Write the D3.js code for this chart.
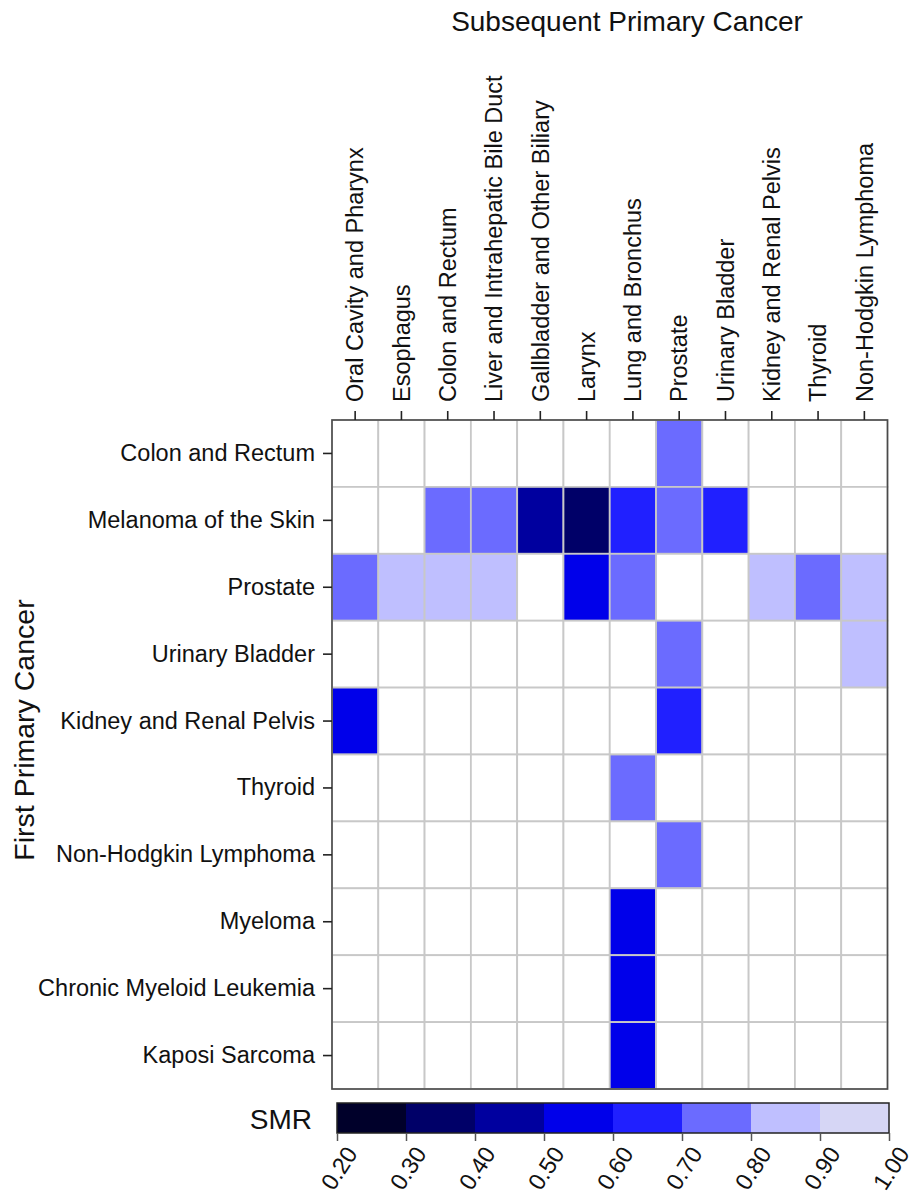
<!DOCTYPE html>
<html>
<head>
<meta charset="utf-8">
<script src="https://cdn.jsdelivr.net/npm/d3@7"></script>
<style>
  body { margin: 0; background: #fff; }
  svg { display: block; font-family: "Liberation Sans", Arial, sans-serif; }
</style>
</head>
<body>
<svg id="chart" width="909" height="1202"></svg>
<script>
// ---- data ----
const subsequentCancers = ["Oral Cavity and Pharynx", "Esophagus", "Colon and Rectum",
  "Liver and Intrahepatic Bile Duct", "Gallbladder and Other Biliary", "Larynx",
  "Lung and Bronchus", "Prostate", "Urinary Bladder", "Kidney and Renal Pelvis",
  "Thyroid", "Non-Hodgkin Lymphoma"];
const firstCancers = ["Colon and Rectum", "Melanoma of the Skin", "Prostate", "Urinary Bladder",
  "Kidney and Renal Pelvis", "Thyroid", "Non-Hodgkin Lymphoma", "Myeloma",
  "Chronic Myeloid Leukemia", "Kaposi Sarcoma"];
// SMR per first cancer (rows) x subsequent cancer (columns); null = not significant
const smrColonRectum   = [null, null, null, null, null, null, null, 0.75, null, null, null, null];
const smrMelanoma      = [null, null, 0.75, 0.75, 0.45, 0.35, 0.65, 0.75, 0.65, null, null, null];
const smrProstate      = [0.75, 0.85, 0.85, 0.85, null, 0.55, 0.75, null, null, 0.85, 0.75, 0.85];
const smrUrinary       = [null, null, null, null, null, null, null, 0.75, null, null, null, 0.85];
const smrKidney        = [0.55, null, null, null, null, null, null, 0.65, null, null, null, null];
const smrThyroid       = [null, null, null, null, null, null, 0.75, null, null, null, null, null];
const smrNHL           = [null, null, null, null, null, null, null, 0.75, null, null, null, null];
const smrMyeloma       = [null, null, null, null, null, null, 0.55, null, null, null, null, null];
const smrCML           = [null, null, null, null, null, null, 0.55, null, null, null, null, null];
const smrKaposi        = [null, null, null, null, null, null, 0.55, null, null, null, null, null];
const smrRows = [smrColonRectum, smrMelanoma, smrProstate, smrUrinary, smrKidney,
  smrThyroid, smrNHL, smrMyeloma, smrCML, smrKaposi];
const legendTicks = [0.20, 0.30, 0.40, 0.50, 0.60, 0.70, 0.80, 0.90, 1.00];
const binColors = ["#00002a", "#000068", "#00009f", "#0000ea", "#2020ff", "#6b6bff", "#bfbfff", "#d6d6f5"];

// ---- layout ----
const svg = d3.select("#chart");
const gridLeft = 332, gridRight = 887.5, gridTop = 420, gridBottom = 1089;
const fs = 23.5;

const x = d3.scaleBand().domain(subsequentCancers).range([gridLeft, gridRight]).padding(0);
const y = d3.scaleBand().domain(firstCancers).range([gridTop, gridBottom]).padding(0);
const color = d3.scaleThreshold().domain(legendTicks.slice(1, -1)).range(binColors);

const cells = [];
firstCancers.forEach((r, i) => subsequentCancers.forEach((c, j) => {
  cells.push({ row: r, col: c, v: smrRows[i][j] });
}));

svg.append("g").selectAll("rect").data(cells).join("rect")
  .attr("x", d => x(d.col))
  .attr("y", d => y(d.row))
  .attr("width", x.bandwidth())
  .attr("height", y.bandwidth())
  .attr("fill", d => d.v == null ? "#ffffff" : color(d.v))
  .attr("stroke", "#c8c8c8")
  .attr("stroke-width", 1.8);

// outer border
svg.append("rect")
  .attr("x", gridLeft).attr("y", gridTop)
  .attr("width", gridRight - gridLeft).attr("height", gridBottom - gridTop)
  .attr("fill", "none").attr("stroke", "#4a4a4a").attr("stroke-width", 1.6);

// top axis
const topAxis = svg.append("g").attr("transform", `translate(0,${gridTop})`)
  .call(d3.axisTop(x).tickSize(9).tickPadding(18));
topAxis.select(".domain").remove();
topAxis.selectAll(".tick line").attr("stroke", "#222").attr("stroke-width", 1.6);
topAxis.selectAll(".tick text")
  .attr("font-size", fs).attr("fill", "#111")
  .attr("transform", "rotate(-90)")
  .attr("text-anchor", "start")
  .attr("x", 18).attr("y", 0).attr("dy", "0.35em");

// left axis
const leftAxis = svg.append("g").attr("transform", `translate(${gridLeft},0)`)
  .call(d3.axisLeft(y).tickSize(9).tickPadding(8));
leftAxis.select(".domain").remove();
leftAxis.selectAll(".tick line").attr("stroke", "#222").attr("stroke-width", 1.6);
leftAxis.selectAll(".tick text").attr("font-size", fs).attr("fill", "#111");

// titles
svg.append("text").attr("x", 627).attr("y", 31).attr("text-anchor", "middle")
  .attr("font-size", 28).attr("fill", "#111").text("Subsequent Primary Cancer");
svg.append("text").attr("transform", "translate(34,730) rotate(-90)").attr("text-anchor", "middle")
  .attr("font-size", 28.5).attr("fill", "#111").text("First Primary Cancer");

// legend
const lx = d3.scaleLinear().domain([0.2, 1.0]).range([337, 889]);
const legTop = 1103, legH = 30;
const bins = d3.range(binColors.length).map(i => ({ a: legendTicks[i], b: legendTicks[i + 1], c: binColors[i] }));
svg.append("g").selectAll("rect").data(bins).join("rect")
  .attr("x", d => lx(d.a)).attr("y", legTop)
  .attr("width", d => lx(d.b) - lx(d.a)).attr("height", legH)
  .attr("fill", d => d.c);
svg.append("rect").attr("x", lx(0.2)).attr("y", legTop)
  .attr("width", lx(1.0) - lx(0.2)).attr("height", legH)
  .attr("fill", "none").attr("stroke", "#222").attr("stroke-width", 1.5);

const legAxis = svg.append("g").attr("transform", `translate(0,${legTop + legH})`)
  .call(d3.axisBottom(lx).tickValues(legendTicks).tickFormat(d3.format(".2f")).tickSize(8));
legAxis.select(".domain").remove();
legAxis.selectAll(".tick line").attr("stroke", "#555").attr("stroke-width", 1.5);
legAxis.selectAll(".tick text")
  .attr("font-size", fs).attr("fill", "#111")
  .attr("text-anchor", "end")
  .attr("transform", "translate(14,16) rotate(-57)")
  .attr("x", 0).attr("y", 0).attr("dy", "0.35em");

svg.append("text").attr("x", 312).attr("y", 1129).attr("text-anchor", "end")
  .attr("font-size", 28).attr("fill", "#111").text("SMR");
</script>
</body>
</html>
